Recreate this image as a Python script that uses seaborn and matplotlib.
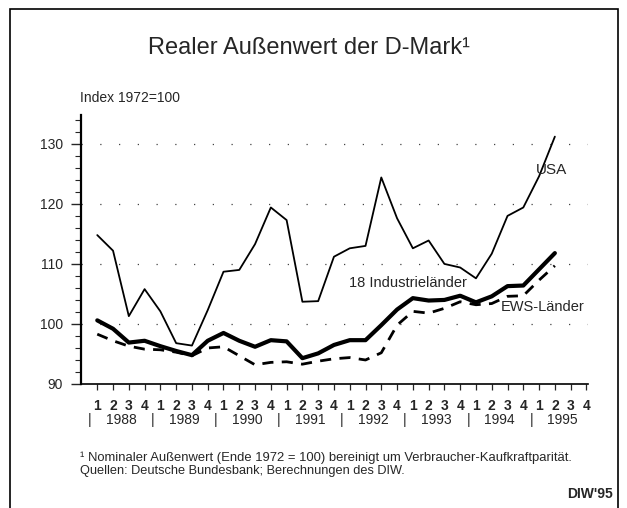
"""Realer Außenwert der D-Mark – Nachbau"""
import pandas as pd
import matplotlib.pyplot as plt
import matplotlib.transforms as mtransforms
from matplotlib.patches import Rectangle
import seaborn as sns

# Quartale 1988 Q1 .. 1995 Q4 (Daten bis 1995 Q2)
jahre = ['1988', '1989', '1990', '1991', '1992', '1993', '1994', '1995']
quartal_labels = ['1', '2', '3', '4'] * len(jahre)

usa = [114.8, 112.2, 101.3, 105.8, 102.1, 96.8, 96.4, 102.3,
       108.7, 109.0, 113.3, 119.4, 117.3, 103.7, 103.8, 111.2,
       112.6, 113.0, 124.4, 117.6, 112.6, 113.9, 110.0, 109.4,
       107.6, 111.7, 118.0, 119.4, 124.6, 131.2]
industrie = [100.6, 99.2, 96.9, 97.2, 96.3, 95.5, 94.8, 97.2,
             98.5, 97.2, 96.2, 97.3, 97.1, 94.3, 95.1, 96.5,
             97.3, 97.3, 99.8, 102.4, 104.3, 103.9, 104.0, 104.7,
             103.6, 104.6, 106.3, 106.4, 109.1, 111.8]
ews = [98.3, 97.2, 96.3, 95.8, 95.7, 95.3, 94.7, 96.0,
       96.2, 94.7, 93.2, 93.6, 93.7, 93.3, 93.8, 94.2,
       94.4, 94.0, 95.2, 99.8, 102.1, 101.8, 102.6, 103.7,
       103.2, 103.4, 104.6, 104.7, 107.3, 109.7]

df = pd.DataFrame({'q': range(len(usa)), 'USA': usa,
                   'Industrie': industrie, 'EWS': ews})

sns.set_style('white')
plt.rcParams['font.family'] = ['Liberation Sans', 'DejaVu Sans']

fig = plt.figure(figsize=(6.27, 5.08), dpi=100)
ax = fig.add_axes([0.1292, 0.2441, 0.9378 - 0.1292, 0.7736 - 0.2441])

sns.lineplot(data=df, x='q', y='USA', ax=ax, color='black', lw=1.3)
sns.lineplot(data=df, x='q', y='Industrie', ax=ax, color='black', lw=3.0)
sns.lineplot(data=df, x='q', y='EWS', ax=ax, color='black', lw=2.0,
             linestyle=(0, (4, 3)))

ax.set_xlim(-1.03, 31.1)
ax.set_ylim(90, 134.8)
ax.set_xlabel('')
ax.set_ylabel('')

# Achsen
for s in ['top', 'right']:
    ax.spines[s].set_visible(False)
ax.spines['left'].set_linewidth(1.6)
ax.spines['bottom'].set_linewidth(1.2)
ax.spines['left'].set_color('black')
ax.spines['bottom'].set_color('black')

ax.set_yticks([90, 100, 110, 120, 130])
ax.set_yticks(range(90, 135, 2), minor=True)
ax.tick_params(axis='y', which='major', direction='out', length=7, width=1,
               labelsize=10, pad=6, left=True)
ax.tick_params(axis='y', which='minor', direction='out', length=4, width=0.8,
               left=True)
ax.set_xticks(range(len(quartal_labels)))
ax.set_xticklabels(quartal_labels, fontsize=10, fontweight='bold')
ax.tick_params(axis='x', direction='out', length=4, width=0.9, pad=7,
               bottom=True)

# gepunktete Gitterlinien
for yv in [100, 110, 120, 130]:
    ax.axhline(yv, color='#444444', lw=0.9, linestyle=(0, (1, 14)), zorder=0)

# Jahreszeile
trans = mtransforms.blended_transform_factory(ax.transData, ax.transAxes)
for k, j in enumerate(jahre):
    ax.text(k * 4 - 0.5, -0.135, '|', transform=trans, ha='center',
            va='center', fontsize=10)
    ax.text(k * 4 + 1.5, -0.135, j, transform=trans, ha='center',
            va='center', fontsize=10)

# Reihenbeschriftungen
ax.text(28.8, 125.7, 'USA', fontsize=11, ha='center', va='center')
ax.text(19.7, 106.8, '18 Industrieländer', fontsize=10.5, ha='center',
        va='center')
ax.text(28.2, 102.8, 'EWS-Länder', fontsize=10.5, ha='center', va='center')

# Texte
fig.text(0.492, 0.905, 'Realer Außenwert der D-Mark¹', ha='center',
         va='center', fontsize=17)
fig.text(0.128, 0.807, 'Index 1972=100', ha='left', va='center', fontsize=10)
fig.text(0.128, 0.098, '¹ Nominaler Außenwert (Ende 1972 = 100) bereinigt um '
         'Verbraucher-Kaufkraftparität.', ha='left', va='center', fontsize=9.4)
fig.text(0.128, 0.072, 'Quellen: Deutsche Bundesbank; Berechnungen des DIW.',
         ha='left', va='center', fontsize=9.2)
fig.text(0.977, 0.027, "DIW'95", ha='right', va='center', fontsize=10,
         fontweight='bold')

# Rahmen
fig.patches.append(Rectangle((10 / 627, -0.05), (618 - 10) / 627,
                             1.05 - 9 / 508, transform=fig.transFigure,
                             fill=False, edgecolor='black', lw=1.2))

plt.savefig('out.png', dpi=100)
plt.close()
